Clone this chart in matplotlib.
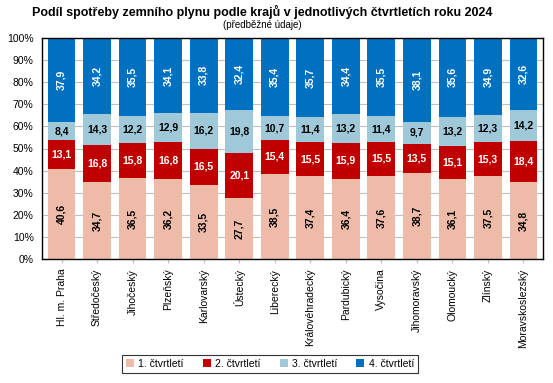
import matplotlib.pyplot as plt
import numpy as np

plt.rcParams['font.family'] = ['Liberation Sans', 'DejaVu Sans']

regions = ["Hl. m. Praha", "Středočeský", "Jihočeský", "Plzeňský", "Karlovarský",
           "Ústecký", "Liberecký", "Královéhradecký", "Pardubický", "Vysočina",
           "Jihomoravský", "Olomoucký", "Zlínský", "Moravskoslezský"]
q1 = [40.6, 34.7, 36.5, 36.2, 33.5, 27.7, 38.5, 37.4, 36.4, 37.6, 38.7, 36.1, 37.5, 34.8]
q2 = [13.1, 16.8, 15.8, 16.8, 16.5, 20.1, 15.4, 15.5, 15.9, 15.5, 13.5, 15.1, 15.3, 18.4]
q3 = [8.4, 14.3, 12.2, 12.9, 16.2, 19.8, 10.7, 11.4, 13.2, 11.4, 9.7, 13.2, 12.3, 14.2]
q4 = [37.9, 34.2, 35.5, 34.1, 33.8, 32.4, 35.4, 35.7, 34.4, 35.5, 38.1, 35.6, 34.9, 32.6]
series_names = ["1. čtvrtletí", "2. čtvrtletí", "3. čtvrtletí", "4. čtvrtletí"]
colors = ["#EDBBA8", "#C00000", "#9FC9D8", "#0070C0"]
label_colors = ["black", "white", "black", "white"]
label_rot = [90, 0, 0, 90]

fig = plt.figure(figsize=(5.53, 3.83), dpi=100)
ax = fig.add_axes([42 / 553, 1 - 259 / 383, (543 - 42) / 553, (259 - 38) / 383])

x = np.arange(len(regions))
bottom = np.zeros(len(regions))
handles = []
for vals, col, lc, rot, name in zip([q1, q2, q3, q4], colors, label_colors, label_rot, series_names):
    vals = np.array(vals)
    bars = ax.bar(x, vals, 0.78, bottom=bottom, color=col, label=name, zorder=2)
    handles.append(bars)
    for xi, b, v in zip(x, bottom, vals):
        ax.text(xi, b + v / 2, f"{v:.1f}".replace(".", ","), ha="center", va="center",
                rotation=rot, color=lc, fontsize=7.5, fontweight="bold", zorder=3)
    bottom += vals

ax.set_xlim(-0.55, len(regions) - 0.45)
ax.set_ylim(0, 100)
ax.set_yticks(range(0, 101, 10))
ax.set_yticklabels([f"{t}%" for t in range(0, 101, 10)], fontsize=7.5)
ax.set_xticks(x)
ax.set_xticklabels(regions, rotation=90, fontsize=7.5)
ax.tick_params(axis="y", length=0, pad=6)
ax.tick_params(axis="x", length=3, color="#BFBFBF", pad=4)
ax.yaxis.grid(True, color="#BFBFBF", linewidth=0.8, zorder=0)
ax.set_axisbelow(True)
for s in ax.spines.values():
    s.set_color("black")
    s.set_linewidth(1)

fig.text(262 / 553, 1 - 12 / 383, "Podíl spotřeby zemního plynu podle krajů v jednotlivých čtvrtletích roku 2024",
         ha="center", va="center", fontsize=9, fontweight="bold")
fig.text(262 / 553, 1 - 25 / 383, "(předběžné údaje)", ha="center", va="center", fontsize=7)

leg = fig.legend(handles=handles, loc="center", bbox_to_anchor=(270 / 553, 1 - 364 / 383),
                 ncol=4, fontsize=7.5, frameon=True, fancybox=False, edgecolor="black",
                 handlelength=0.8, handleheight=0.8, handletextpad=0.4, columnspacing=1.8,
                 borderpad=0.35)
leg.get_frame().set_linewidth(0.8)

fig.savefig("out.png", dpi=100)
